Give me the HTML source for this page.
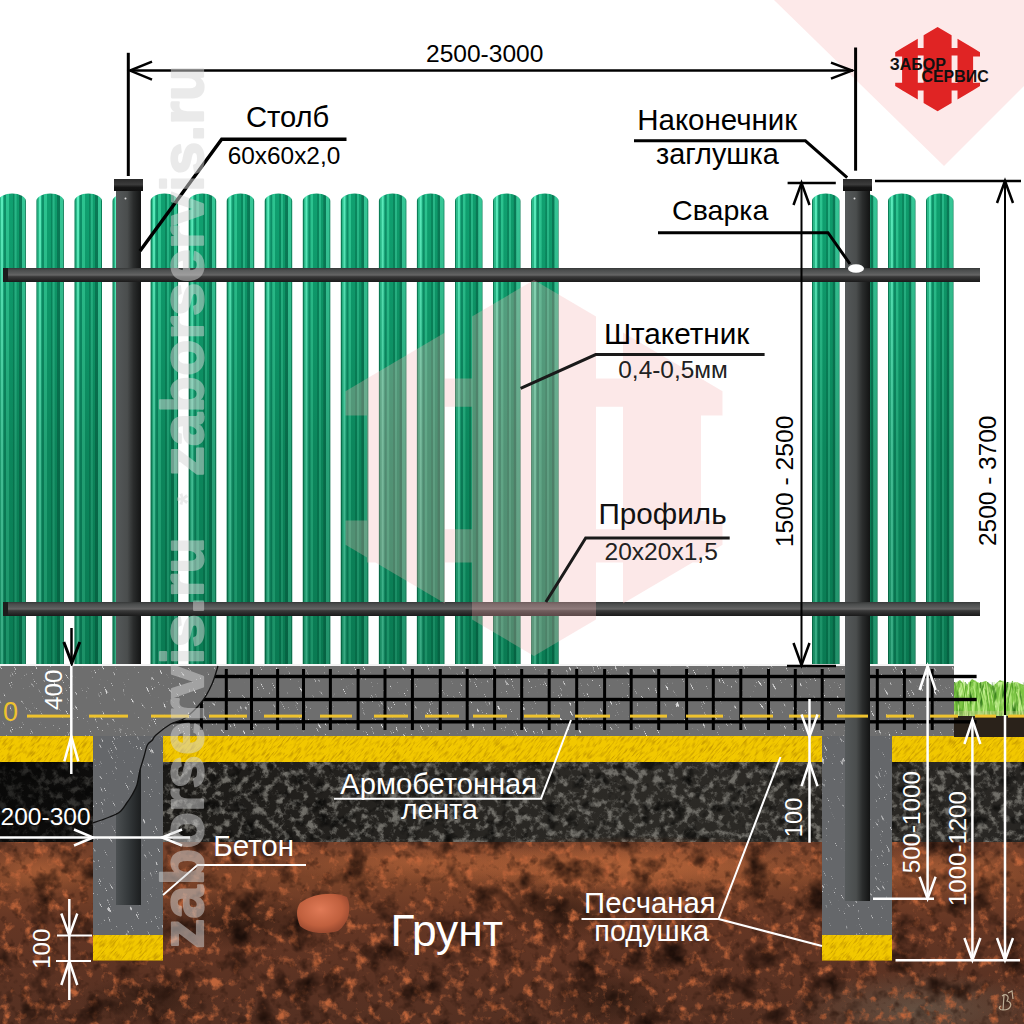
<!DOCTYPE html>
<html><head><meta charset="utf-8"><title>Fence diagram</title>
<style>html,body{margin:0;padding:0;background:#fff;overflow:hidden}svg{display:block}svg text{font-family:"Liberation Sans",sans-serif}</style>
</head><body>
<svg width="1024" height="1024" viewBox="0 0 1024 1024">
<defs>
<linearGradient id="pk" x1="0" y1="0" x2="1" y2="0"><stop offset="0.000" stop-color="#0c8058"/><stop offset="0.029" stop-color="#0c8058"/><stop offset="0.045" stop-color="#2cbc8c"/><stop offset="0.090" stop-color="#2cbc8c"/><stop offset="0.106" stop-color="#5aecbc"/><stop offset="0.162" stop-color="#5aecbc"/><stop offset="0.178" stop-color="#1eae80"/><stop offset="0.202" stop-color="#1eae80"/><stop offset="0.218" stop-color="#0e9068"/><stop offset="0.272" stop-color="#0e9068"/><stop offset="0.288" stop-color="#2cc490"/><stop offset="0.372" stop-color="#2cc490"/><stop offset="0.388" stop-color="#10a070"/><stop offset="0.512" stop-color="#10a070"/><stop offset="0.528" stop-color="#0a885e"/><stop offset="0.577" stop-color="#0a885e"/><stop offset="0.593" stop-color="#28b888"/><stop offset="0.652" stop-color="#28b888"/><stop offset="0.668" stop-color="#0f9c6c"/><stop offset="0.742" stop-color="#0f9c6c"/><stop offset="0.758" stop-color="#0a7a56"/><stop offset="0.842" stop-color="#0a7a56"/><stop offset="0.858" stop-color="#36c696"/><stop offset="0.962" stop-color="#36c696"/><stop offset="0.978" stop-color="#0c8058"/><stop offset="1.000" stop-color="#0c8058"/></linearGradient>
<linearGradient id="pkv" x1="0" y1="0" x2="0" y2="1">
 <stop offset="0" stop-color="#003c22" stop-opacity="0"/>
 <stop offset="0.1" stop-color="#003c22" stop-opacity="0.04"/>
 <stop offset="0.55" stop-color="#003c22" stop-opacity="0.26"/>
 <stop offset="1" stop-color="#003c22" stop-opacity="0.38"/>
</linearGradient>
<linearGradient id="post" x1="0" y1="0" x2="1" y2="0">
 <stop offset="0" stop-color="#55595a"/>
 <stop offset="0.45" stop-color="#4a4d4d"/>
 <stop offset="0.7" stop-color="#2a2c2c"/>
 <stop offset="1" stop-color="#131414"/>
</linearGradient>
<linearGradient id="rec" x1="0" y1="0" x2="1" y2="0">
 <stop offset="0" stop-color="#4c5052"/>
 <stop offset="0.5" stop-color="#34383a"/>
 <stop offset="1" stop-color="#1c1e1f"/>
</linearGradient>
<linearGradient id="rail" x1="0" y1="0" x2="0" y2="1">
 <stop offset="0" stop-color="#363838"/>
 <stop offset="0.15" stop-color="#4a4c4c"/>
 <stop offset="0.38" stop-color="#5a5b5b"/>
 <stop offset="0.5" stop-color="#666666"/>
 <stop offset="0.62" stop-color="#3a3a3a"/>
 <stop offset="0.85" stop-color="#262626"/>
 <stop offset="1" stop-color="#1a1a1a"/>
</linearGradient>
<linearGradient id="cap" x1="0" y1="0" x2="0" y2="1">
 <stop offset="0" stop-color="#2a2a2a"/>
 <stop offset="0.45" stop-color="#3c3c3c"/>
 <stop offset="0.7" stop-color="#161616"/>
 <stop offset="1" stop-color="#101010"/>
</linearGradient>
<filter id="noise" x="0" y="0" width="100%" height="100%">
 <feTurbulence type="fractalNoise" baseFrequency="0.08" numOctaves="3" seed="4"/>
 <feColorMatrix values="0 0 0 0 0  0 0 0 0 0  0 0 0 0 0  0 0 0 -2.2 1.3"/>
 <feComposite in2="SourceGraphic" operator="in"/>
</filter>
</defs>

<rect width="1024" height="1024" fill="#ffffff"/>
<polygon points="774,0 944,166 1024,86 1024,0" fill="#fde9e9"/>
<path d="M-1.6,664 V201 A13.75 7.5 0 0 1 25.9,201 V664 Z" fill="url(#pk)"/><path d="M-1.6,664 V201 A13.75 7.5 0 0 1 25.9,201 V664 Z" fill="url(#pkv)"/>
<path d="M36.4,664 V201 A13.75 7.5 0 0 1 63.9,201 V664 Z" fill="url(#pk)"/><path d="M36.4,664 V201 A13.75 7.5 0 0 1 63.9,201 V664 Z" fill="url(#pkv)"/>
<path d="M74.5,664 V201 A13.75 7.5 0 0 1 102.0,201 V664 Z" fill="url(#pk)"/><path d="M74.5,664 V201 A13.75 7.5 0 0 1 102.0,201 V664 Z" fill="url(#pkv)"/>
<path d="M112.5,664 V201 A13.75 7.5 0 0 1 140.1,201 V664 Z" fill="url(#pk)"/><path d="M112.5,664 V201 A13.75 7.5 0 0 1 140.1,201 V664 Z" fill="url(#pkv)"/>
<path d="M150.6,664 V201 A13.75 7.5 0 0 1 178.1,201 V664 Z" fill="url(#pk)"/><path d="M150.6,664 V201 A13.75 7.5 0 0 1 178.1,201 V664 Z" fill="url(#pkv)"/>
<path d="M188.7,664 V201 A13.75 7.5 0 0 1 216.2,201 V664 Z" fill="url(#pk)"/><path d="M188.7,664 V201 A13.75 7.5 0 0 1 216.2,201 V664 Z" fill="url(#pkv)"/>
<path d="M226.7,664 V201 A13.75 7.5 0 0 1 254.2,201 V664 Z" fill="url(#pk)"/><path d="M226.7,664 V201 A13.75 7.5 0 0 1 254.2,201 V664 Z" fill="url(#pkv)"/>
<path d="M264.7,664 V201 A13.75 7.5 0 0 1 292.2,201 V664 Z" fill="url(#pk)"/><path d="M264.7,664 V201 A13.75 7.5 0 0 1 292.2,201 V664 Z" fill="url(#pkv)"/>
<path d="M302.8,664 V201 A13.75 7.5 0 0 1 330.3,201 V664 Z" fill="url(#pk)"/><path d="M302.8,664 V201 A13.75 7.5 0 0 1 330.3,201 V664 Z" fill="url(#pkv)"/>
<path d="M340.8,664 V201 A13.75 7.5 0 0 1 368.3,201 V664 Z" fill="url(#pk)"/><path d="M340.8,664 V201 A13.75 7.5 0 0 1 368.3,201 V664 Z" fill="url(#pkv)"/>
<path d="M378.9,664 V201 A13.75 7.5 0 0 1 406.4,201 V664 Z" fill="url(#pk)"/><path d="M378.9,664 V201 A13.75 7.5 0 0 1 406.4,201 V664 Z" fill="url(#pkv)"/>
<path d="M416.9,664 V201 A13.75 7.5 0 0 1 444.4,201 V664 Z" fill="url(#pk)"/><path d="M416.9,664 V201 A13.75 7.5 0 0 1 444.4,201 V664 Z" fill="url(#pkv)"/>
<path d="M455.0,664 V201 A13.75 7.5 0 0 1 482.5,201 V664 Z" fill="url(#pk)"/><path d="M455.0,664 V201 A13.75 7.5 0 0 1 482.5,201 V664 Z" fill="url(#pkv)"/>
<path d="M493.0,664 V201 A13.75 7.5 0 0 1 520.5,201 V664 Z" fill="url(#pk)"/><path d="M493.0,664 V201 A13.75 7.5 0 0 1 520.5,201 V664 Z" fill="url(#pkv)"/>
<path d="M531.1,664 V201 A13.75 7.5 0 0 1 558.6,201 V664 Z" fill="url(#pk)"/><path d="M531.1,664 V201 A13.75 7.5 0 0 1 558.6,201 V664 Z" fill="url(#pkv)"/>
<path d="M812.0,664 V201 A13.75 7.5 0 0 1 839.5,201 V664 Z" fill="url(#pk)"/><path d="M812.0,664 V201 A13.75 7.5 0 0 1 839.5,201 V664 Z" fill="url(#pkv)"/>
<path d="M850.0,664 V201 A13.75 7.5 0 0 1 877.5,201 V664 Z" fill="url(#pk)"/><path d="M850.0,664 V201 A13.75 7.5 0 0 1 877.5,201 V664 Z" fill="url(#pkv)"/>
<path d="M888.0,664 V201 A13.75 7.5 0 0 1 915.5,201 V664 Z" fill="url(#pk)"/><path d="M888.0,664 V201 A13.75 7.5 0 0 1 915.5,201 V664 Z" fill="url(#pkv)"/>
<path d="M926.0,664 V201 A13.75 7.5 0 0 1 953.5,201 V664 Z" fill="url(#pk)"/><path d="M926.0,664 V201 A13.75 7.5 0 0 1 953.5,201 V664 Z" fill="url(#pkv)"/>
<rect x="116" y="190" width="25" height="476" fill="url(#post)"/>
<rect x="114" y="179" width="29" height="12" fill="url(#cap)"/>
<circle cx="125.5" cy="198.5" r="1" fill="#ddd"/>
<rect x="845" y="190" width="25" height="476" fill="url(#post)"/>
<rect x="843" y="179" width="29" height="12" fill="url(#cap)"/>
<circle cx="854.5" cy="198.5" r="1" fill="#ddd"/>
<rect x="3" y="268" width="977" height="14" fill="url(#rail)"/>
<rect x="3" y="268" width="5" height="14" fill="#1c1c1c"/>
<rect x="3" y="602" width="977" height="14" fill="url(#rail)"/>
<rect x="3" y="602" width="5" height="14" fill="#1c1c1c"/>
<g opacity="0.3"><path d="M472.0,316.6 L534.0,280.0 L596.0,316.6 L596.0,619.4 L534.0,656.0 L472.0,619.4Z M367.0,378.5 L445.0,332.5 L445.0,603.5 L367.0,557.5Z M623.0,332.5 L701.0,378.5 L701.0,557.5 L623.0,603.5Z M345.5,391.2 L367.0,378.5 L367.0,415.5 L345.5,415.5Z M345.5,520.5 L367.0,520.5 L367.0,557.5 L345.5,544.8Z M701.0,378.5 L722.5,391.2 L722.5,415.5 L701.0,415.5Z M701.0,520.5 L722.5,520.5 L722.5,544.8 L701.0,557.5Z M345.5,391.2 L722.5,391.2 L722.5,406.7 L345.5,406.7Z M367.0,378.5 L701.0,378.5 L701.0,406.7 L367.0,406.7Z M345.5,529.3 L722.5,529.3 L722.5,544.8 L345.5,544.8Z M367.0,529.3 L701.0,529.3 L701.0,562.5 L367.0,562.5Z" fill="rgb(245,180,180)"/></g>
<defs><filter id="dk_lt" x="0" y="0" width="100%" height="100%" color-interpolation-filters="sRGB"><feTurbulence type="fractalNoise" baseFrequency="0.13" numOctaves="4" seed="7"/><feColorMatrix type="matrix" values="0 0 0 0 0.439 0 0 0 0 0.431 0 0 0 0 0.408 4.0 0 0 0 -1.9"/></filter><filter id="dk_dk" x="0" y="0" width="100%" height="100%" color-interpolation-filters="sRGB"><feTurbulence type="fractalNoise" baseFrequency="0.07" numOctaves="3" seed="11"/><feColorMatrix type="matrix" values="0 0 0 0 0.024 0 0 0 0 0.024 0 0 0 0 0.020 -2.6 0 0 0 1.2"/></filter><filter id="br_lt" x="0" y="0" width="100%" height="100%" color-interpolation-filters="sRGB"><feTurbulence type="fractalNoise" baseFrequency="0.09" numOctaves="4" seed="3"/><feColorMatrix type="matrix" values="0 0 0 0 0.745 0 0 0 0 0.392 0 0 0 0 0.227 3.6 0 0 0 -1.95"/></filter><filter id="br_dk" x="0" y="0" width="100%" height="100%" color-interpolation-filters="sRGB"><feTurbulence type="fractalNoise" baseFrequency="0.035" numOctaves="4" seed="5"/><feColorMatrix type="matrix" values="0 0 0 0 0.110 0 0 0 0 0.055 0 0 0 0 0.035 -2.8 0 0 0 1.34"/></filter><filter id="br_dk2" x="0" y="0" width="100%" height="100%" color-interpolation-filters="sRGB"><feTurbulence type="fractalNoise" baseFrequency="0.1" numOctaves="3" seed="21"/><feColorMatrix type="matrix" values="0 0 0 0 0.157 0 0 0 0 0.078 0 0 0 0 0.047 -3.0 0 0 0 1.35"/></filter><filter id="cc_sp" x="0" y="0" width="100%" height="100%" color-interpolation-filters="sRGB"><feTurbulence type="fractalNoise" baseFrequency="0.1 0.9" numOctaves="2" seed="9"/><feColorMatrix type="matrix" values="0 0 0 0 0.863 0 0 0 0 0.863 0 0 0 0 0.863 10.0 0 0 0 -6.6"/></filter><filter id="sd_dk" x="0" y="0" width="100%" height="100%" color-interpolation-filters="sRGB"><feTurbulence type="fractalNoise" baseFrequency="0.7 0.12" numOctaves="2" seed="13"/><feColorMatrix type="matrix" values="0 0 0 0 0.725 0 0 0 0 0.549 0 0 0 0 0.000 3.6 0 0 0 -1.65"/></filter><filter id="gr_lt" x="0" y="0" width="100%" height="100%" color-interpolation-filters="sRGB"><feTurbulence type="fractalNoise" baseFrequency="0.5 0.08" numOctaves="3" seed="2"/><feColorMatrix type="matrix" values="0 0 0 0 0.784 0 0 0 0 0.941 0 0 0 0 0.588 3.5 0 0 0 -1.6"/></filter><filter id="gr_dk" x="0" y="0" width="100%" height="100%" color-interpolation-filters="sRGB"><feTurbulence type="fractalNoise" baseFrequency="0.3 0.06" numOctaves="3" seed="4"/><feColorMatrix type="matrix" values="0 0 0 0 0.157 0 0 0 0 0.431 0 0 0 0 0.078 -3.5 0 0 0 1.7"/></filter></defs>
<linearGradient id="dsoil" x1="0" y1="0" x2="1" y2="0"><stop offset="0" stop-color="#141311"/><stop offset="0.3" stop-color="#22201d"/><stop offset="0.6" stop-color="#2c2a26"/><stop offset="1" stop-color="#282623"/></linearGradient>
<rect x="0" y="761" width="1024" height="82" fill="url(#dsoil)"/>
<rect x="0" y="761" width="1024" height="82" filter="url(#dk_lt)"/>
<rect x="0" y="761" width="1024" height="82" filter="url(#dk_dk)"/>
<linearGradient id="dkl" x1="0" y1="0" x2="1" y2="0"><stop offset="0" stop-color="#050505" stop-opacity="0.7"/><stop offset="0.7" stop-color="#050505" stop-opacity="0.55"/><stop offset="1" stop-color="#050505" stop-opacity="0"/></linearGradient>
<rect x="0" y="761" width="130" height="82" fill="url(#dkl)"/>
<linearGradient id="soil" x1="0" y1="0" x2="0" y2="1">
 <stop offset="0" stop-color="#74402a"/><stop offset="0.2" stop-color="#7c4429"/>
 <stop offset="0.45" stop-color="#643624"/><stop offset="1" stop-color="#543022"/></linearGradient>
<rect x="0" y="842" width="1024" height="182" fill="url(#soil)"/>
<radialGradient id="rg_or"><stop offset="0" stop-color="#c06a3c" stop-opacity="0.6"/><stop offset="1" stop-color="#c06a3c" stop-opacity="0"/></radialGradient>
<radialGradient id="rg_dk"><stop offset="0" stop-color="#1e120c" stop-opacity="0.55"/><stop offset="1" stop-color="#1e120c" stop-opacity="0"/></radialGradient>
<radialGradient id="rg_gr"><stop offset="0" stop-color="#6e6658" stop-opacity="0.6"/><stop offset="1" stop-color="#6e6658" stop-opacity="0"/></radialGradient>
<ellipse cx="640" cy="866" rx="240" ry="30" fill="url(#rg_or)"/>
<ellipse cx="620" cy="866" rx="160" ry="22" fill="url(#rg_or)"/>
<ellipse cx="420" cy="862" rx="150" ry="22" fill="url(#rg_or)"/>
<ellipse cx="950" cy="870" rx="90" ry="25" fill="url(#rg_or)"/>
<ellipse cx="40" cy="870" rx="60" ry="25" fill="url(#rg_or)"/>
<ellipse cx="240" cy="920" rx="90" ry="30" fill="url(#rg_dk)"/>
<ellipse cx="560" cy="910" rx="70" ry="30" fill="url(#rg_dk)"/>
<ellipse cx="610" cy="1000" rx="60" ry="30" fill="url(#rg_dk)"/>
<ellipse cx="150" cy="1000" rx="70" ry="25" fill="url(#rg_dk)"/>
<ellipse cx="920" cy="1010" rx="130" ry="40" fill="url(#rg_gr)"/>
<rect x="0" y="842" width="1024" height="182" filter="url(#br_lt)"/>
<rect x="0" y="842" width="1024" height="182" filter="url(#br_dk)"/>
<rect x="0" y="842" width="1024" height="182" filter="url(#br_dk2)" opacity="0.6"/>
<radialGradient id="rock" cx="0.45" cy="0.4" r="0.6"><stop offset="0" stop-color="#e07a56"/><stop offset="0.7" stop-color="#c0603e"/><stop offset="1" stop-color="#9a4a30"/></radialGradient>
<path d="M300,903 C312,893 336,891 347,897 C352,908 349,923 338,931 C322,935 308,933 300,926 C296,916 296,909 300,903 Z" fill="url(#rock)"/>
<rect x="0" y="736" width="1024" height="26" fill="#f2c800"/>
<clipPath id="tc1"><rect x="0" y="736" width="1024" height="26"/></clipPath><g clip-path="url(#tc1)" opacity="0.65"><g transform="rotate(40 512.0 749.0)"><rect x="-2" y="235" width="1028" height="1028" filter="url(#sd_dk)"/></g></g>
<rect x="954" y="716" width="70" height="21" fill="#2a221a"/>
<path d="M954,716 V684 L960,680 L966,686 L972,679 L979,683 L986,681 L993,686 L1000,680 L1008,684 L1016,682 L1024,685 V716 Z" fill="#7cc444"/>
<clipPath id="tc2"><rect x="954" y="682" width="70" height="34"/></clipPath><g clip-path="url(#tc2)" opacity="1"><g transform="rotate(0 989.0 699.0)"><rect x="948" y="658" width="82" height="82" filter="url(#gr_lt)"/></g></g>
<clipPath id="tc3"><rect x="954" y="682" width="70" height="34"/></clipPath><g clip-path="url(#tc3)" opacity="1"><g transform="rotate(0 989.0 699.0)"><rect x="948" y="658" width="82" height="82" filter="url(#gr_dk)"/></g></g>
<g opacity="0.8"><path d="M997.4,716 Q998.6,696.6 1001.5,683.6" stroke="#b8ee80" stroke-width="1.2" fill="none"/><path d="M1012.1,716 Q1011.1,696.3 1008.6,683.1" stroke="#b8ee80" stroke-width="1.2" fill="none"/><path d="M1016.3,716 Q1016.1,701.8 1015.8,692.4" stroke="#9ad860" stroke-width="1.2" fill="none"/><path d="M980.9,716 Q979.8,701.9 977.4,692.6" stroke="#9ad860" stroke-width="1.2" fill="none"/><path d="M982.8,716 Q984.3,701.3 987.9,691.5" stroke="#c8f090" stroke-width="1.2" fill="none"/><path d="M965.9,716 Q964.3,696.1 960.8,682.8" stroke="#c8f090" stroke-width="1.2" fill="none"/><path d="M963.6,716 Q965.2,702.8 968.8,694.0" stroke="#9ad860" stroke-width="1.2" fill="none"/><path d="M1007.6,716 Q1006.2,694.7 1002.9,680.6" stroke="#9ad860" stroke-width="1.2" fill="none"/><path d="M974.7,716 Q974.8,694.7 975.2,680.5" stroke="#9ad860" stroke-width="1.2" fill="none"/><path d="M967.4,716 Q966.1,694.7 963.1,680.4" stroke="#c8f090" stroke-width="1.2" fill="none"/><path d="M975.3,716 Q973.9,699.8 970.6,688.9" stroke="#9ad860" stroke-width="1.2" fill="none"/><path d="M972.9,716 Q974.3,700.0 977.4,689.4" stroke="#b8ee80" stroke-width="1.2" fill="none"/><path d="M995.5,716 Q993.7,696.9 989.5,684.1" stroke="#5aa82a" stroke-width="1.2" fill="none"/><path d="M1010.7,716 Q1009.9,698.8 1008.1,687.3" stroke="#c8f090" stroke-width="1.2" fill="none"/><path d="M987.1,716 Q986.1,701.3 983.7,691.5" stroke="#b8ee80" stroke-width="1.2" fill="none"/><path d="M1019.5,716 Q1019.1,699.8 1018.2,689.0" stroke="#c8f090" stroke-width="1.2" fill="none"/><path d="M979.9,716 Q977.8,697.9 973.0,685.9" stroke="#b8ee80" stroke-width="1.2" fill="none"/><path d="M1003.1,716 Q1005.0,697.6 1009.5,685.3" stroke="#b8ee80" stroke-width="1.2" fill="none"/><path d="M1006.4,716 Q1008.2,695.0 1012.6,681.0" stroke="#5aa82a" stroke-width="1.2" fill="none"/><path d="M989.8,716 Q988.8,695.3 986.4,681.5" stroke="#c8f090" stroke-width="1.2" fill="none"/><path d="M962.3,716 Q963.6,696.5 966.5,683.5" stroke="#5aa82a" stroke-width="1.2" fill="none"/><path d="M957.5,716 Q955.8,694.9 951.8,680.8" stroke="#5aa82a" stroke-width="1.2" fill="none"/><path d="M989.9,716 Q988.4,699.8 985.0,688.9" stroke="#5aa82a" stroke-width="1.2" fill="none"/><path d="M1017.8,716 Q1017.1,698.2 1015.2,686.4" stroke="#5aa82a" stroke-width="1.2" fill="none"/><path d="M975.8,716 Q976.4,696.1 977.6,682.8" stroke="#5aa82a" stroke-width="1.2" fill="none"/><path d="M1022.8,716 Q1020.9,701.4 1016.5,691.7" stroke="#c8f090" stroke-width="1.2" fill="none"/><path d="M957.2,716 Q956.5,696.6 955.0,683.6" stroke="#5aa82a" stroke-width="1.2" fill="none"/><path d="M986.0,716 Q984.1,699.3 979.8,688.1" stroke="#b8ee80" stroke-width="1.2" fill="none"/></g>
<rect x="954" y="711" width="70" height="5" fill="#c8c890" opacity="0.35"/>
<rect x="0" y="666" width="954" height="70" fill="#6e6e6e"/>
<clipPath id="tc4"><rect x="0" y="666" width="954" height="70"/></clipPath><g clip-path="url(#tc4)" opacity="1"><g transform="rotate(62 477.0 701.0)"><rect x="-3" y="221" width="961" height="961" filter="url(#cc_sp)"/></g></g>
<rect x="93" y="736" width="70" height="200" fill="#65676a"/>
<clipPath id="tc5"><rect x="93" y="736" width="70" height="200"/></clipPath><g clip-path="url(#tc5)" opacity="0.8"><g transform="rotate(62 128.0 836.0)"><rect x="20" y="728" width="216" height="216" filter="url(#cc_sp)"/></g></g>
<rect x="93" y="935" width="70" height="25.5" fill="#f2c800"/>
<clipPath id="tc6"><rect x="93" y="935" width="70" height="25.5"/></clipPath><g clip-path="url(#tc6)" opacity="0.65"><g transform="rotate(40 128.0 947.75)"><rect x="89" y="908" width="78" height="78" filter="url(#sd_dk)"/></g></g>
<rect x="822" y="736" width="70" height="200" fill="#65676a"/>
<clipPath id="tc7"><rect x="822" y="736" width="70" height="200"/></clipPath><g clip-path="url(#tc7)" opacity="0.8"><g transform="rotate(62 857.0 836.0)"><rect x="749" y="728" width="216" height="216" filter="url(#cc_sp)"/></g></g>
<rect x="822" y="935" width="70" height="25.5" fill="#f2c800"/>
<clipPath id="tc8"><rect x="822" y="935" width="70" height="25.5"/></clipPath><g clip-path="url(#tc8)" opacity="0.65"><g transform="rotate(40 857.0 947.75)"><rect x="818" y="908" width="78" height="78" filter="url(#sd_dk)"/></g></g>
<clipPath id="crk"><path d="M152.5,740 C151.7,740.8 148.8,742.2 147.4,745 C146.0,747.8 145.1,752.8 143.9,757 C142.7,761.2 141.2,765.3 140,770 C138.8,774.7 138.2,780.8 136.9,785 C135.6,789.2 133.7,792.0 132,795 C130.3,798.0 128.8,800.2 126.7,803 C124.7,805.8 122.6,809.7 119.7,812 C116.8,814.3 112.5,815.7 109.5,817 C106.5,818.3 104.5,819.0 101.7,820 C99.0,821.0 94.5,822.3 93,822.8 L93,960 L163,960 L163,740 Z"/></clipPath>
<rect x="116" y="736" width="25" height="169" fill="url(#rec)" clip-path="url(#crk)"/>
<rect x="0" y="664" width="954" height="2" fill="#f4f4f4"/>
<clipPath id="meshclip"><path d="M218,666 C217.0,669.0 214.6,678.2 212,684 C209.4,689.8 206.9,695.3 202.4,701 C197.9,706.7 190.3,714.2 185,718 C179.7,721.8 175.5,721.2 170.7,724 C165.9,726.8 159.0,732.3 156,735 C153.0,737.7 153.9,738.3 152.5,740 C151.1,741.7 148.2,744.2 147.4,745 L1024,745 L1024,655 L218,655 Z"/></clipPath>
<g clip-path="url(#meshclip)" fill="#000"><rect x="140" y="674.8" width="836.6" height="3.4"/><rect x="140" y="697.8" width="836.6" height="3.4"/><rect x="140" y="720.1" width="836.6" height="3.4"/><rect x="199.9" y="669" width="3" height="61"/><rect x="224.8" y="669" width="3" height="61"/><rect x="250.0" y="669" width="3" height="61"/><rect x="276.1" y="669" width="3" height="61"/><rect x="302.0" y="669" width="3" height="61"/><rect x="328.9" y="669" width="3" height="61"/><rect x="356.6" y="669" width="3" height="61"/><rect x="383.5" y="669" width="3" height="61"/><rect x="410.9" y="669" width="3" height="61"/><rect x="438.8" y="669" width="3" height="61"/><rect x="465.7" y="669" width="3" height="61"/><rect x="493.1" y="669" width="3" height="61"/><rect x="520.2" y="669" width="3" height="61"/><rect x="547.7" y="669" width="3" height="61"/><rect x="575.2" y="669" width="3" height="61"/><rect x="603.1" y="669" width="3" height="61"/><rect x="629.7" y="669" width="3" height="61"/><rect x="657.2" y="669" width="3" height="61"/><rect x="685.1" y="669" width="3" height="61"/><rect x="711.8" y="669" width="3" height="61"/><rect x="739.3" y="669" width="3" height="61"/><rect x="767.0" y="669" width="3" height="61"/><rect x="793.8" y="669" width="3" height="61"/><rect x="820.7" y="669" width="3" height="61"/><rect x="875.8" y="669" width="3" height="61"/><rect x="902.9" y="669" width="3" height="61"/><rect x="930.7" y="669" width="3" height="61"/></g>
<path d="M218,666 C217.0,669.0 214.6,678.2 212,684 C209.4,689.8 206.9,695.3 202.4,701 C197.9,706.7 190.3,714.2 185,718 C179.7,721.8 175.5,721.2 170.7,724 C165.9,726.8 159.0,732.3 156,735 C153.0,737.7 153.9,738.3 152.5,740 C151.1,741.7 148.8,742.2 147.4,745 C146.0,747.8 145.1,752.8 143.9,757 C142.7,761.2 141.2,765.3 140,770 C138.8,774.7 138.2,780.8 136.9,785 C135.6,789.2 133.7,792.0 132,795 C130.3,798.0 128.8,800.2 126.7,803 C124.7,805.8 122.6,809.7 119.7,812 C116.8,814.3 112.5,815.7 109.5,817 C106.5,818.3 104.5,819.0 101.7,820 C99.0,821.0 94.5,822.3 93,822.8" fill="none" stroke="#111" stroke-width="1.3"/>
<path d="M845,660 H870 V901 H845 Z" fill="url(#post)"/>
<g fill="#eec22e"><rect x="27" y="714.6" width="43" height="3"/><rect x="89" y="714.6" width="39" height="3"/><rect x="151" y="714.6" width="38" height="3"/><rect x="209" y="714.6" width="38" height="3"/><rect x="264" y="714.6" width="38" height="3"/><rect x="320" y="714.6" width="32" height="3"/><rect x="374" y="714.6" width="34" height="3"/><rect x="425" y="714.6" width="34" height="3"/><rect x="473" y="714.6" width="34" height="3"/><rect x="524" y="714.6" width="36" height="3"/><rect x="575" y="714.6" width="35" height="3"/><rect x="630" y="714.6" width="37" height="3"/><rect x="686" y="714.6" width="37" height="3"/><rect x="740" y="714.6" width="33" height="3"/><rect x="789" y="714.6" width="31" height="3"/><rect x="837" y="714.6" width="31" height="3"/><rect x="886" y="714.6" width="28" height="3"/><rect x="930" y="714.6" width="28" height="3"/><rect x="975" y="714.6" width="21" height="3"/><rect x="1008" y="714.6" width="16" height="3"/></g>
<text x="3" y="720.5" font-family="Liberation Sans" font-size="27" fill="#eec22e">0</text>
<line x1="130" y1="70.6" x2="853" y2="70.6" stroke="#000" stroke-width="2.5"/>
<polyline points="152.0,61.6 130.0,70.6 152.0,79.6" fill="none" stroke="#000" stroke-width="2.5"/>
<polyline points="831.0,62.6 852.0,70.6 831.0,78.6" fill="none" stroke="#000" stroke-width="2.5"/>
<line x1="128.3" y1="52.8" x2="128.3" y2="176" stroke="#000" stroke-width="3"/>
<line x1="855.6" y1="47.5" x2="855.6" y2="170.7" stroke="#000" stroke-width="3"/>
<polyline points="346.5,139.2 221.7,139.2 140,251" fill="none" stroke="#000" stroke-width="3.4"/>
<polyline points="634,140.8 805.4,140.8 847.2,177.6" fill="none" stroke="#000" stroke-width="3"/>
<polyline points="658,232.7 828,232.7 850,264" fill="none" stroke="#000" stroke-width="3"/>
<ellipse cx="856" cy="268.5" rx="8" ry="4.3" fill="#fff"/>
<polyline points="764.6,354.6 595.7,354.6 520.6,388.4" fill="none" stroke="#1a1a1a" stroke-width="3"/>
<polyline points="729.7,538 585.7,538 545.9,602" fill="none" stroke="#1a1a1a" stroke-width="3"/>
<line x1="787.6" y1="183" x2="835.8" y2="183" stroke="#000" stroke-width="2.5"/>
<line x1="801.5" y1="183" x2="801.5" y2="666" stroke="#000" stroke-width="2"/>
<polyline points="793.5,205.0 801.5,183.0 809.5,205.0" fill="none" stroke="#000" stroke-width="2.5"/>
<polyline points="793.5,643.0 801.5,665.0 809.5,643.0" fill="none" stroke="#000" stroke-width="2.5"/>
<line x1="787" y1="666" x2="836" y2="666" stroke="#000" stroke-width="2.5"/>
<line x1="875" y1="181" x2="1021" y2="181" stroke="#000" stroke-width="2.5"/>
<line x1="1005" y1="181" x2="1005" y2="715" stroke="#000" stroke-width="2"/>
<polyline points="997.0,203.0 1005.0,181.0 1013.0,203.0" fill="none" stroke="#000" stroke-width="2.5"/>
<line x1="71.5" y1="628" x2="71.5" y2="664" stroke="#000" stroke-width="2.5"/>
<polyline points="63.8,642.0 71.8,663.0 79.8,642.0" fill="none" stroke="#000" stroke-width="3"/>
<line x1="71.3" y1="666" x2="71.3" y2="774" stroke="#fff" stroke-width="2.5"/>
<polyline points="64.3,761.4 71.3,736.4 78.3,761.4" fill="none" stroke="#fff" stroke-width="2.5"/>
<line x1="0" y1="837.5" x2="190" y2="837.5" stroke="#fff" stroke-width="2.5"/>
<polyline points="74.0,829.5 93.0,837.5 74.0,845.5" fill="none" stroke="#fff" stroke-width="2.5"/>
<polyline points="182.0,829.5 162.0,837.5 182.0,845.5" fill="none" stroke="#fff" stroke-width="2.5"/>
<polyline points="306,865 197.5,865 163,895" fill="none" stroke="#fff" stroke-width="1.8"/>
<line x1="69.3" y1="899" x2="69.3" y2="1000" stroke="#fff" stroke-width="2.5"/>
<polyline points="61.3,913.5 69.3,935.5 77.3,913.5" fill="none" stroke="#fff" stroke-width="2.5"/>
<polyline points="61.3,985.0 69.3,961.0 77.3,985.0" fill="none" stroke="#fff" stroke-width="2.5"/>
<line x1="57" y1="935.5" x2="92" y2="935.5" stroke="#fff" stroke-width="2"/>
<line x1="56" y1="961" x2="91" y2="961" stroke="#fff" stroke-width="2"/>
<polyline points="334,798.7 541,798.7 571,720" fill="none" stroke="#fff" stroke-width="2"/>
<polyline points="581.5,919 718.5,919 780.5,757" fill="none" stroke="#fff" stroke-width="2"/>
<line x1="718.5" y1="919" x2="822" y2="946" stroke="#fff" stroke-width="2"/>
<line x1="809.5" y1="699" x2="809.5" y2="842.7" stroke="#fff" stroke-width="2.5"/>
<polyline points="801.5,714.5 809.5,736.5 817.5,714.5" fill="none" stroke="#fff" stroke-width="2.5"/>
<polyline points="801.5,786.2 809.5,762.2 817.5,786.2" fill="none" stroke="#fff" stroke-width="2.5"/>
<line x1="927.6" y1="666" x2="927.6" y2="898.7" stroke="#fff" stroke-width="2.5"/>
<polyline points="919.6,690.0 927.6,666.0 935.6,690.0" fill="none" stroke="#fff" stroke-width="2.5"/>
<polyline points="919.6,876.7 927.6,898.7 935.6,876.7" fill="none" stroke="#fff" stroke-width="2.5"/>
<line x1="873" y1="898.7" x2="934" y2="898.7" stroke="#fff" stroke-width="2.5"/>
<line x1="972.4" y1="720" x2="972.4" y2="960" stroke="#fff" stroke-width="2.5"/>
<polyline points="964.4,744.0 972.4,720.0 980.4,744.0" fill="none" stroke="#fff" stroke-width="2.5"/>
<polyline points="964.4,938.0 972.4,960.0 980.4,938.0" fill="none" stroke="#fff" stroke-width="2.5"/>
<line x1="1005" y1="715" x2="1005" y2="960" stroke="#fff" stroke-width="2.5"/>
<polyline points="997.0,938.0 1005.0,960.0 1013.0,938.0" fill="none" stroke="#fff" stroke-width="2.5"/>
<line x1="895.5" y1="960.2" x2="1020" y2="960.2" stroke="#fff" stroke-width="2.5"/>
<text x="426.0" y="61.6" font-family="Liberation Sans" font-size="24.55" font-weight="normal" fill="#000">2500-3000</text>
<text x="245.9" y="127.2" font-family="Liberation Sans" font-size="29.16" font-weight="normal" fill="#000">Столб</text>
<text x="227.7" y="164" font-family="Liberation Sans" font-size="24.40" font-weight="normal" fill="#000">60x60x2,0</text>
<text x="637.2" y="129.5" font-family="Liberation Sans" font-size="29.49" font-weight="normal" fill="#000">Наконечник</text>
<text x="656.0" y="164" font-family="Liberation Sans" font-size="28.82" font-weight="normal" fill="#000">заглушка</text>
<text x="672.1" y="220" font-family="Liberation Sans" font-size="28.56" font-weight="normal" fill="#000">Сварка</text>
<text x="603.9" y="343.5" font-family="Liberation Sans" font-size="29.69" font-weight="normal" fill="#000">Штакетник</text>
<text x="618.3" y="377.8" font-family="Liberation Sans" font-size="24.40" font-weight="normal" fill="#222">0,4-0,5мм</text>
<text x="598.5" y="524.2" font-family="Liberation Sans" font-size="29.70" font-weight="normal" fill="#111">Профиль</text>
<text x="604.5" y="560" font-family="Liberation Sans" font-size="24.56" font-weight="normal" fill="#222">20x20x1,5</text>
<text transform="translate(793,547.1) rotate(-90)" x="0" y="0" font-family="Liberation Sans" font-size="24.63" font-weight="normal" fill="#000" >1500 - 2500</text>
<text transform="translate(995.6,546.0) rotate(-90)" x="0" y="0" font-family="Liberation Sans" font-size="24.44" font-weight="normal" fill="#000" >2500 - 3700</text>
<text transform="translate(61.9,709.9) rotate(-90)" x="0" y="0" font-family="Liberation Sans" font-size="24.25" font-weight="normal" fill="#fff" >400</text>
<text x="0.6" y="825.2" font-family="Liberation Sans" font-size="24.53" font-weight="normal" fill="#fff">200-300</text>
<text x="213.3" y="856" font-family="Liberation Sans" font-size="29.53" font-weight="normal" fill="#fff">Бетон</text>
<text x="340.3" y="793.6" font-family="Liberation Sans" font-size="29.14" font-weight="normal" fill="#fff">Армобетонная</text>
<text x="401.0" y="819" font-family="Liberation Sans" font-size="28.49" font-weight="normal" fill="#fff">лента</text>
<text x="390.4" y="946" font-family="Liberation Sans" font-size="44.33" font-weight="normal" fill="#fff">Грунт</text>
<text x="584.1" y="913" font-family="Liberation Sans" font-size="29.31" font-weight="normal" fill="#fff">Песчаная</text>
<text x="594.3" y="941" font-family="Liberation Sans" font-size="28.85" font-weight="normal" fill="#fff">подушка</text>
<text transform="translate(50,968.8) rotate(-90)" x="0" y="0" font-family="Liberation Sans" font-size="24.13" font-weight="normal" fill="#fff" >100</text>
<text transform="translate(802.4,837.2) rotate(-90)" x="0" y="0" font-family="Liberation Sans" font-size="23.68" font-weight="normal" fill="#fff" >100</text>
<text transform="translate(920,873.3) rotate(-90)" x="0" y="0" font-family="Liberation Sans" font-size="24.19" font-weight="normal" fill="#fff" >500-1000</text>
<text transform="translate(966,906.0) rotate(-90)" x="0" y="0" font-family="Liberation Sans" font-size="24.00" font-weight="normal" fill="#fff" >1000-1200</text>
<g opacity="0.5"><text transform="translate(203,476) rotate(-90)" x="0" y="0" font-family="Liberation Sans" font-size="59" font-weight="bold" letter-spacing="0.6" fill="rgb(215,215,215)" stroke="rgb(215,215,215)" stroke-width="2.2" stroke-linejoin="round">zaborservis.ru</text><text transform="translate(203,948.5) rotate(-90)" x="0" y="0" font-family="Liberation Sans" font-size="59" font-weight="bold" letter-spacing="0.6" fill="rgb(215,215,215)" stroke="rgb(215,215,215)" stroke-width="2.2" stroke-linejoin="round">zaborservis.ru</text></g>
<g opacity="0.41"><text x="0" y="0" transform="translate(197,505) rotate(-90)" font-family="Liberation Sans" font-weight="bold" font-size="30" fill="rgb(207,207,207)">*</text></g>
<path d="M1002,996 C1006,993 1010,996 1007,1001 C1013,1002 1012,1010 1003,1010 C999,1010 998,1007 1001,1006 M1004,995 L1003,1010 M1008,993 L1012,991 L1013,999" stroke="#d8ccb0" stroke-width="1.2" fill="none" opacity="0.8"/>
<path d="M923.6,35.3 L937.6,27.0 L951.6,35.3 L951.6,103.0 L937.6,111.3 L923.6,103.0Z M902.1,48.1 L917.8,38.8 L917.8,99.5 L902.1,90.2Z M957.5,38.8 L973.1,48.1 L973.1,90.2 L957.5,99.5Z M895.2,52.2 L902.1,48.1 L902.1,56.5 L895.2,56.5Z M895.2,84.4 L902.1,84.4 L902.1,90.2 L895.2,86.1Z M973.1,48.1 L980.0,52.2 L980.0,56.5 L973.1,56.5Z M973.1,84.4 L980.0,84.4 L980.0,86.1 L973.1,90.2Z M895.2,52.2 L980.0,52.2 L980.0,55.4 L895.2,55.4Z M902.1,48.1 L973.1,48.1 L973.1,55.4 L902.1,55.4Z M895.2,82.8 L980.0,82.8 L980.0,86.1 L895.2,86.1Z M902.1,82.8 L973.1,82.8 L973.1,90.4 L902.1,90.4Z" fill="#e02424"/>
<text x="889.8" y="69.6" font-family="Liberation Sans" font-size="15.98" font-weight="bold" fill="#111">ЗАБОР</text>
<text x="921.5" y="81.8" font-family="Liberation Sans" font-size="15.93" font-weight="bold" fill="#111">СЕРВИС</text></svg>
</body></html>
